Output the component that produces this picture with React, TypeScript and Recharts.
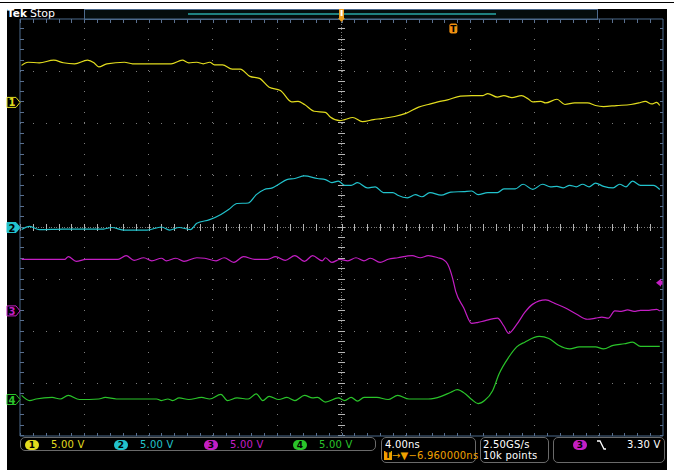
import React from 'react';
import { LineChart, Line, XAxis, YAxis, ReferenceLine, ReferenceDot } from 'recharts';

// time in ns (4 ns/div, trigger-centred), values in volts (5 V/div)
const ch1: number[][] = [[-19.9,3.55],[-19.5,3.85],[-18.8,3.8],[-17.9,4.05],[-17.3,3.8],[-16.6,3.7],[-15.8,4.05],[-15.4,3.8],[-15.1,3.4],[-14.6,3.7],[-13.5,3.85],[-13.0,3.7],[-10.6,3.7],[-9.9,4.05],[-9.5,3.8],[-9.0,3.85],[-8.6,3.7],[-8.2,3.85],[-7.9,3.6],[-7.4,3.6],[-6.8,3.2],[-6.3,3.2],[-5.7,2.5],[-5.1,2.3],[-4.5,1.45],[-3.8,1.15],[-3.1,0.05],[-2.7,0.1],[-2.3,-0.2],[-1.7,-0.85],[-1.0,-0.95],[-0.7,-1.4],[-0.1,-1.75],[0.2,-1.65],[0.7,-1.45],[1.3,-1.85],[2.0,-1.65],[2.5,-1.55],[3.3,-1.35],[4.0,-1.05],[4.8,-0.45],[5.4,-0.2],[6.0,0.05],[6.6,0.25],[7.4,0.6],[8.1,0.65],[8.8,0.65],[9.1,0.85],[9.7,0.5],[10.1,0.65],[10.6,0.45],[11.2,0.65],[11.6,0.35],[11.9,0.05],[12.4,0.1],[12.7,-0.05],[13.4,0.3],[13.9,-0.2],[14.5,-0.05],[15.3,-0.05],[15.8,-0.3],[16.3,-0.4],[17.1,-0.3],[18.0,-0.2],[18.5,-0.05],[18.9,0.1],[19.3,-0.15],[19.6,0],[19.8,-0.3]];
const ch2: number[][] = [[-19.9,-0.2],[-19.4,0.1],[-18.8,-0.2],[-17.3,-0.15],[-14.8,-0.15],[-14.3,0],[-13.5,-0.25],[-12.1,-0.25],[-11.2,0.05],[-10.7,-0.25],[-10.1,0],[-9.4,-0.2],[-9.0,0.4],[-8.2,0.75],[-7.5,1.25],[-7.0,1.75],[-6.5,2.3],[-5.8,2.35],[-5.3,3.15],[-4.8,3.65],[-4.3,3.8],[-3.9,4.15],[-3.4,4.6],[-2.9,4.7],[-2.3,4.95],[-1.5,4.7],[-1.0,4.6],[-0.6,4.3],[-0.2,4.45],[0.2,4.05],[0.6,4.05],[1.0,4.3],[1.6,3.8],[2.1,3.9],[2.6,3.35],[3.2,3.35],[3.5,3.1],[4.1,2.85],[4.6,3.15],[5.0,2.95],[5.5,3.35],[6.2,3.1],[6.8,3.4],[7.6,3.45],[8.1,3.5],[8.5,3.15],[9.1,3.35],[9.7,3.35],[10.1,3.7],[10.8,3.7],[11.3,4.15],[11.9,3.65],[12.5,4.15],[13.0,3.9],[13.4,3.95],[13.8,3.8],[14.2,4.05],[14.6,3.9],[15.0,4.15],[15.4,3.9],[15.8,4.25],[16.3,3.95],[16.9,3.8],[17.3,4.15],[17.7,3.9],[18.1,4.45],[18.6,4.05],[19.4,4.05],[19.8,3.65]];
const ch3: number[][] = [[-19.9,4.95],[-17.2,4.95],[-17.0,5.2],[-16.5,4.75],[-15.9,4.95],[-13.9,4.95],[-13.4,5.3],[-12.9,4.85],[-12.3,5.1],[-11.8,4.8],[-11.2,5.05],[-10.9,4.8],[-10.3,5.05],[-9.8,4.75],[-9.0,5.1],[-8.5,5.05],[-7.8,4.8],[-7.3,5.1],[-6.7,4.65],[-6.1,5.2],[-5.4,4.95],[-4.6,4.95],[-4.1,5.2],[-3.5,4.85],[-2.9,5.3],[-2.3,4.75],[-1.8,5.3],[-1.2,4.8],[-1.0,5.1],[-0.6,4.65],[-0.1,4.95],[0.4,4.8],[0.9,5.1],[1.4,4.8],[1.8,5.05],[2.4,4.65],[2.9,4.95],[3.5,5.1],[4.4,5.3],[4.9,5.1],[5.4,5.3],[6.0,5.1],[6.3,4.95],[6.6,4.5],[6.9,3.2],[7.1,1.9],[7.6,0.3],[8.1,-1.2],[8.5,-1.1],[8.9,-0.95],[9.7,-0.7],[10.1,-1.45],[10.4,-2.15],[10.9,-1.3],[11.4,-0.15],[11.9,0.65],[12.7,1.05],[13.3,0.7],[13.9,0.3],[14.6,-0.3],[15.3,-0.8],[15.8,-0.7],[16.2,-0.6],[16.6,-0.7],[17.0,0],[17.4,-0.05],[17.8,0.1],[18.2,-0.05],[18.6,0.05],[19.0,0.05],[19.6,0.15],[19.8,0]];
const ch4: number[][] = [[-19.9,0.4],[-19.4,-0.1],[-19.0,0.05],[-18.0,0.2],[-17.5,0.05],[-17.0,0.4],[-16.3,0],[-15.1,0.05],[-14.7,0.2],[-14.0,0.05],[-11.5,0.05],[-11.2,-0.1],[-10.8,0.05],[-10.5,-0.1],[-10.1,0.15],[-9.5,0],[-8.7,0.2],[-8.2,0.05],[-7.5,0.5],[-7.1,-0.1],[-6.5,0.15],[-5.8,0.05],[-5.3,0.55],[-4.9,-0.1],[-4.5,0.3],[-3.9,0],[-3.4,0.2],[-2.9,-0.1],[-2.3,0.4],[-1.8,0.15],[-1.5,0.2],[-1.0,-0.25],[-0.2,0.15],[0.2,-0.1],[0.6,0.2],[1.0,-0.15],[1.4,0.2],[2.2,0.2],[2.9,0],[3.5,0.4],[4.2,0.05],[5.4,0.05],[6.2,0.3],[6.8,0.7],[7.2,0.95],[7.7,0.55],[8.1,0],[8.5,-0.4],[8.9,-0.1],[9.4,0.85],[9.8,2.45],[10.4,4.05],[10.9,5.05],[11.4,5.5],[12.3,6.05],[12.9,5.85],[13.5,5.2],[14.2,4.85],[14.8,5.05],[15.8,5.05],[16.3,4.85],[16.9,5.2],[17.6,5.35],[18.1,5.5],[18.6,5.1],[19.8,5.1]];

const channelOffsetsDiv = [2.4, 0, -1.6, -3.3];
const channelColors = ['#e2dc1e', '#22c2cc', '#c41ec4', '#2ac42a'];
const channelLabels = ['1', '2', '3', '4'];
const channelScaleLabels = ['5.00 V', '5.00 V', '5.00 V', '5.00 V'];
const voltsPerDiv = 5;
const triggerTimeNs = 6.96;
const triggerLevelDiv = -1.06;

const majorX = [-16, -12, -8, -4, 4, 8, 12, 16];
const majorY = [-3, -2, -1, 1, 2, 3];

const series = [ch1, ch2, ch3, ch4].map((pts, i) =>
  pts.map(([t, v]) => ({ t, y: channelOffsetsDiv[i] + v / voltsPerDiv }))
);

const W = 674, H = 470;
const M = { top: 19, right: 11, bottom: 34, left: 20 };
const pw = W - M.left - M.right, ph = H - M.top - M.bottom;
const minorXGap = pw / 50 - 1;
const minorYGap = ph / 40 - 1;

const tag = (color: string, label: string, filled: boolean) => (p: any) => {
  const { cx, cy } = p;
  const x0 = cx - 13;
  return (
    <g>
      <polygon points={`${x0},${cy - 5} ${cx - 4},${cy - 5} ${cx},${cy} ${cx - 4},${cy + 5} ${x0},${cy + 5}`}
        fill={filled ? color : '#000'} stroke={color} strokeWidth={1} />
      <text x={x0 + 5} y={cy + 4} fontSize={10} fontWeight="bold" fill={filled ? '#000' : color}
        textAnchor="middle" fontFamily="DejaVu Sans">{label}</text>
    </g>
  );
};

const trigPosShape = (p: any) => {
  const { cx, cy } = p;
  return (
    <g>
      <rect x={cx - 2.5} y={cy - 10} width={5} height={9} fill="#f0a020" />
      <rect x={cx - 1} y={cy - 9} width={2} height={6} fill="#fff" />
      <polygon points={`${cx - 3.5},${cy - 1} ${cx + 3.5},${cy - 1} ${cx},${cy + 3}`} fill="#f0a020" />
    </g>
  );
};

const tIconShape = (p: any) => {
  const { cx, cy } = p;
  return (
    <g>
      <rect x={cx - 4} y={cy - 5} width={8} height={10} rx={2} fill="#f09010" />
      <text x={cx} y={cy + 3.5} fontSize={9} fontWeight="bold" fill="#000" textAnchor="middle" fontFamily="DejaVu Sans">T</text>
    </g>
  );
};

const levelShape = (p: any) => {
  const { cx, cy } = p;
  return (
    <g>
      <polygon points={`${cx - 7},${cy} ${cx - 2},${cy - 4} ${cx - 2},${cy + 4}`} fill="#c41ec4" />
      <rect x={cx - 2} y={cy - 2} width={1.5} height={4} fill="#c41ec4" />
    </g>
  );
};

const txt = (left: number, top: number, color: string, s: string, extra: any = {}) => (
  <div style={{ position: 'absolute', left, top, color, fontFamily: 'DejaVu Sans', fontSize: 10, lineHeight: '11px', whiteSpace: 'pre', letterSpacing: 0.2, ...extra }}>{s}</div>
);

const badge = (left: number, color: string, label: string) => (
  <div style={{ position: 'absolute', left, top: 440, width: 14, height: 10, borderRadius: 5, background: color, color: '#000', fontFamily: 'DejaVu Sans', fontSize: 9, fontWeight: 'bold', lineHeight: '10px', textAlign: 'center' }}>{label}</div>
);

const box = (left: number, top: number, width: number, height: number) => (
  <div style={{ position: 'absolute', left, top, width, height, border: '1px solid #6a6a6a', borderRadius: 5, boxSizing: 'border-box' }} />
);

export default function App() {
  const borderColor = '#4d6a8c';
  const statusLeft = [25, 114, 204, 293];
  return (
    <div style={{ position: 'absolute', left: 0, top: 0, width: W, height: H, background: '#fff', overflow: 'hidden' }}>
      <div style={{ position: 'absolute', left: 0, top: 2, width: W, height: 1, background: '#000' }} />
      <div style={{ position: 'absolute', left: 7, top: 9, width: 660, height: 461, background: '#000' }} />
      <div style={{ position: 'absolute', left: 7, top: 8, color: '#fff', fontFamily: 'DejaVu Sans', fontSize: 10.5, fontWeight: 'bold', lineHeight: '11px' }}>Tek</div>
      <div style={{ position: 'absolute', left: 30, top: 8, color: '#fff', fontFamily: 'DejaVu Sans', fontSize: 11, lineHeight: '11px' }}>Stop</div>
      <div style={{ position: 'absolute', left: 84, top: 9, width: 514, height: 11, border: `1px solid ${borderColor}`, background: '#050d0d', boxSizing: 'border-box' }} />
      <div style={{ position: 'absolute', left: 188, top: 13, width: 308, height: 2, background: '#1f8080' }} />
      <div style={{ position: 'absolute', left: 0, top: 0 }}>
        <LineChart width={W} height={H} margin={M}>
          <XAxis type="number" dataKey="t" domain={[-20, 20]} allowDataOverflow hide />
          <YAxis type="number" domain={[-4, 4]} allowDataOverflow hide />
          {majorX.map((x) => (
            <ReferenceLine key={'gx' + x} x={x} stroke="#7c7c7c" strokeWidth={1} strokeDasharray={`1 ${minorYGap}`} shapeRendering="crispEdges" />
          ))}
          {majorY.map((y) => (
            <ReferenceLine key={'gy' + y} y={y} stroke="#7c7c7c" strokeWidth={1} strokeDasharray={`1 ${minorXGap}`} shapeRendering="crispEdges" />
          ))}
          <ReferenceLine x={0} stroke="#7a7a7a" strokeWidth={1} strokeDasharray="1 1.6" shapeRendering="crispEdges" />
          <ReferenceLine y={0} stroke="#7a7a7a" strokeWidth={1} strokeDasharray="1 1.6" shapeRendering="crispEdges" />
          <ReferenceLine x={0} stroke="#b4b4b4" strokeWidth={7} strokeDasharray={`1 ${minorYGap}`} shapeRendering="crispEdges" />
          <ReferenceLine y={0} stroke="#b4b4b4" strokeWidth={7} strokeDasharray={`1 ${minorXGap}`} shapeRendering="crispEdges" />
          <ReferenceLine x={-20} stroke="#5a7090" strokeWidth={7} strokeDasharray={`1 ${minorYGap}`} ifOverflow="hidden" shapeRendering="crispEdges" />
          <ReferenceLine x={20} stroke="#5a7090" strokeWidth={7} strokeDasharray={`1 ${minorYGap}`} ifOverflow="hidden" shapeRendering="crispEdges" />
          <ReferenceLine y={4} stroke="#5a7090" strokeWidth={7} strokeDasharray={`1 ${minorXGap}`} ifOverflow="hidden" shapeRendering="crispEdges" />
          <ReferenceLine y={-4} stroke="#5a7090" strokeWidth={7} strokeDasharray={`1 ${minorXGap}`} ifOverflow="hidden" shapeRendering="crispEdges" />
          <ReferenceLine x={-20} stroke={borderColor} strokeWidth={1} />
          <ReferenceLine x={20} stroke={borderColor} strokeWidth={1} />
          <ReferenceLine y={4} stroke={borderColor} strokeWidth={1} />
          <ReferenceLine y={-4} stroke={borderColor} strokeWidth={1} />
          {series.map((d, i) => (
            <Line key={'s' + i} data={d} dataKey="y" type="monotone" stroke={channelColors[i]} strokeWidth={1.2}
              dot={false} activeDot={false} isAnimationActive={false} />
          ))}
          {channelOffsetsDiv.map((o, i) => (
            <ReferenceDot key={'m' + i} x={-20} y={o} r={0} shape={tag(channelColors[i], channelLabels[i], i === 1)} />
          ))}
          <ReferenceDot x={0} y={4} r={0} shape={trigPosShape} />
          <ReferenceDot x={triggerTimeNs} y={3.82} r={0} shape={tIconShape} />
          <ReferenceDot x={20} y={triggerLevelDiv} r={0} shape={levelShape} />
        </LineChart>
      </div>
      {box(20, 437, 356, 14)}
      {box(381, 437, 95, 26)}
      {box(480, 437, 69, 26)}
      {box(553, 437, 112, 26)}
      {statusLeft.map((l, i) => (
        <React.Fragment key={'st' + i}>
          {badge(l, channelColors[i], channelLabels[i])}
          {txt(l + 26, 439, channelColors[i], channelScaleLabels[i])}
        </React.Fragment>
      ))}
      {txt(385, 439, '#fff', '4.00ns')}
      <div style={{ position: 'absolute', left: 384, top: 451, width: 8, height: 9, background: '#f0a000', color: '#000', fontFamily: 'DejaVu Sans', fontSize: 8, fontWeight: 'bold', lineHeight: '9px', textAlign: 'center' }}>T</div>
      {txt(392, 450, '#f0a000', '→▼−6.960000ns')}
      {txt(483, 439, '#fff', '2.50GS/s')}
      {txt(483, 450, '#fff', '10k points')}
      {badge(573, '#c41ec4', '3')}
      <svg style={{ position: 'absolute', left: 596, top: 440 }} width={12} height={12}>
        <path d="M1,1 H4 L8,9 H10" stroke="#fff" strokeWidth={1.3} fill="none" />
      </svg>
      {txt(627, 439, '#fff', '3.30 V')}
    </div>
  );
}
